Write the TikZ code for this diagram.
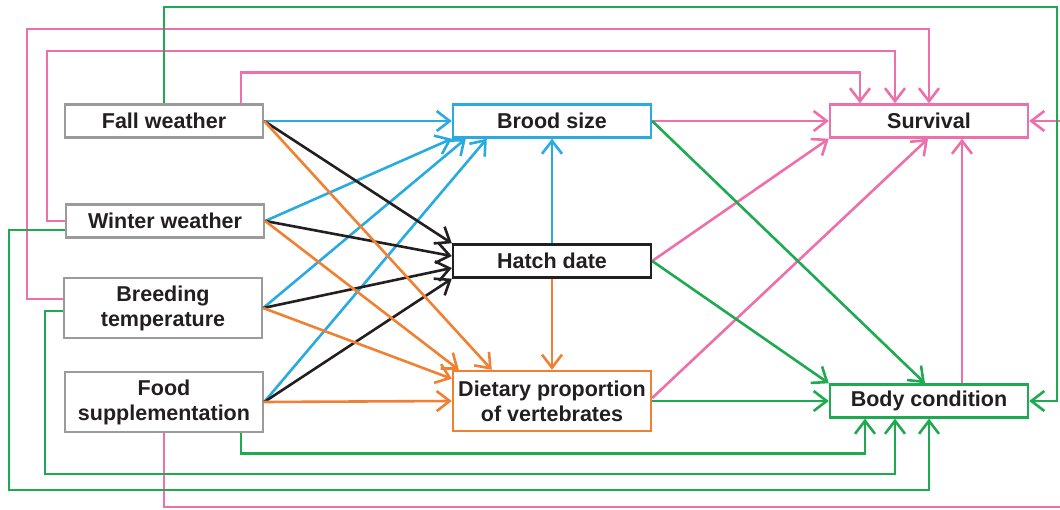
\documentclass[tikz,border=0pt]{standalone}
\usepackage{fontspec}
\setmainfont{Liberation Sans}
\usetikzlibrary{arrows.meta}
\definecolor{cblue}{RGB}{41,171,226}
\definecolor{corange}{RGB}{240,128,50}
\definecolor{cpink}{RGB}{238,112,170}
\definecolor{cgreen}{RGB}{30,170,80}
\definecolor{cgray}{RGB}{155,155,155}
\definecolor{cblack}{RGB}{35,31,32}
\begin{document}
\begin{tikzpicture}[
                x=1pt, y=-1pt,
                line width=2.6pt,
                every node/.style={draw,line width=2.4pt,minimum width=198pt,minimum height=33pt,
                    inner sep=0pt,align=center,text=cblack,font=\fontsize{21.5}{25}\selectfont\bfseries},
                twoline/.style={minimum height=60pt},
                arr/.style={-{Straight Barb[length=13pt,width=20pt]}},
                blueline/.style={arr,draw=cblue},
                blackline/.style={arr,draw=cblack},
                orangeline/.style={arr,draw=corange},
                pinkline/.style={arr,draw=cpink},
                greenline/.style={arr,draw=cgreen}
            ]
            \useasboundingbox (0,0) rectangle (1060,510);

            % left column
            \node[draw=cgray] (fall) at (164,121) {Fall weather};
            \node[draw=cgray] (winter) at (165,221) {Winter weather};
            \node[draw=cgray,twoline] (breed) at (163,308) {Breeding\\temperature};
            \node[draw=cgray,twoline] (food) at (164,402) {Food\\supplementation};
            % middle column
            \node[draw=cblue] (brood) at (552,121) {Brood size};
            \node[draw=cblack] (hatch) at (552,261) {Hatch date};
            \node[draw=corange,twoline] (diet) at (552,401) {Dietary proportion\\of vertebrates};
            % right column
            \node[draw=cpink] (surv) at (929,121) {Survival};
            \node[draw=cgreen] (body) at (929,401) {Body condition};

            % brood size
            \draw[blueline] (fall.east) -- (brood.west);
            \draw[blueline] (winter.east) -- (brood.south west);
            \draw[blueline] (breed.east) -- ([xshift=14pt]brood.south west);
            \draw[blueline] (food.east) -- ([xshift=35pt]brood.south west);
            \draw[blueline] (hatch.north) -- (brood.south);

            % hatch date
            \draw[blackline] (fall.east) -- (hatch.north west);
            \draw[blackline] (winter.east) -- ([yshift=5pt]hatch.west);
            \draw[blackline] (breed.east) -- ([yshift=-7pt]hatch.west);
            \draw[blackline] (food.east) -- (hatch.south west);

            % dietary proportion
            \draw[orangeline] (fall.east) -- ([xshift=40pt]diet.north west);
            \draw[orangeline] (winter.east) -- ([xshift=7pt]diet.north west);
            \draw[orangeline] (breed.east) -- ([yshift=-9pt]diet.north west);
            \draw[orangeline] (food.east) -- (diet.west);
            \draw[orangeline] (hatch.south) -- (diet.north);

            % survival
            \draw[pinkline] (brood.east) -- (surv.west);
            \draw[pinkline] (hatch.east) -- (surv.south west);
            \draw[pinkline] ([yshift=3pt]diet.east) -- ([xshift=-1pt]surv.south);
            \draw[pinkline] ([xshift=33pt]body.north) -- ([xshift=33pt]surv.south);
            \draw[pinkline] ([xshift=77pt]fall.north) -- ++(0,-31) -| ([xshift=-69pt]surv.north);
            \draw[pinkline] (winter.west) -| (47,51) -| ([xshift=-34pt]surv.north);
            \draw[pinkline] ([yshift=9pt]breed.west) -| (27,29) -| (surv.north);
            \draw[pinkline] (food.south) |- (1064,507) |- (surv.east);

            % body condition
            \draw[greenline] (brood.east) -- ([xshift=-4pt]body.north);
            \draw[greenline] (hatch.east) -- (body.north west);
            \draw[greenline] (diet.east) -- (body.west);
            \draw[greenline] (fall.north) |- (1057,7) |- (body.east);
            \draw[greenline] ([xshift=77pt]food.south) -- ++(0,20) -| ([xshift=-64pt]body.south);
            \draw[greenline] ([yshift=-3pt]breed.west) -| (45,474) -| ([xshift=-34pt]body.south);
            \draw[greenline] ([yshift=-9pt]winter.west) -| (9,490) -| (body.south);

        \end{tikzpicture}
\end{document}
